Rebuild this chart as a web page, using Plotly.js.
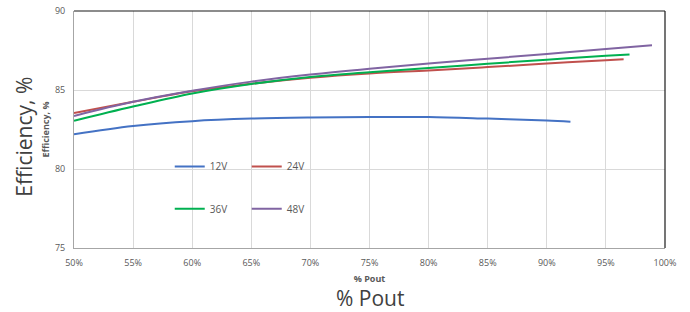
<!DOCTYPE html>
<html>
<head>
<meta charset="utf-8">
<script src="https://cdn.plot.ly/plotly-3.0.1.min.js"></script>
<style>html,body{margin:0;padding:0;background:#fff;}#chart{width:690px;height:312px;}</style>
</head>
<body>
<div id="chart"></div>
<script>
// Data
const seriesNames = ['12V', '24V', '36V', '48V'];
const x12 = [0.50, 0.55, 0.60, 0.65, 0.70, 0.75, 0.80, 0.85, 0.90, 0.92];
const y12 = [82.2, 82.72, 83.03, 83.19, 83.26, 83.29, 83.29, 83.19, 83.07, 82.99];
const x24 = [0.50, 0.55, 0.60, 0.65, 0.70, 0.75, 0.80, 0.85, 0.90, 0.95, 0.965];
const y24 = [83.55, 84.25, 84.92, 85.4, 85.78, 86.05, 86.24, 86.45, 86.67, 86.89, 86.95];
const x36 = [0.50, 0.55, 0.60, 0.65, 0.70, 0.75, 0.80, 0.85, 0.90, 0.95, 0.97];
const y36 = [83.05, 83.95, 84.78, 85.38, 85.82, 86.12, 86.4, 86.66, 86.92, 87.16, 87.25];
const x48 = [0.50, 0.55, 0.60, 0.65, 0.70, 0.75, 0.80, 0.85, 0.90, 0.95, 0.989];
const y48 = [83.36, 84.25, 84.95, 85.53, 85.98, 86.35, 86.68, 86.98, 87.28, 87.59, 87.83];
const xTickVals = [0.50, 0.55, 0.60, 0.65, 0.70, 0.75, 0.80, 0.85, 0.90, 0.95, 1.00];
const yTickVals = [75, 80, 85, 90];
const xTitle = '% Pout';
const yTitle = 'Efficiency, %';

const colors = ['#4472C4', '#C0504D', '#00B050', '#8064A2'];
const xs = [x12, x24, x36, x48];
const ys = [y12, y24, y36, y48];
const legends = ['legend', 'legend', 'legend2', 'legend2'];

const traces = seriesNames.map((n, i) => ({
  type: 'scatter', mode: 'lines', name: n,
  x: xs[i], y: ys[i],
  line: {color: colors[i], width: 2, shape: 'spline', smoothing: 1},
  legend: legends[i], hoverinfo: 'skip'
}));

const tickFont = {family: 'Open Sans, sans-serif', size: 9, color: '#595959'};
const legFont = {family: 'Open Sans, sans-serif', size: 10, color: '#595959'};

const layout = {
  width: 690, height: 312,
  margin: {l: 73.5, r: 25, t: 11, b: 64},
  paper_bgcolor: '#fff', plot_bgcolor: '#fff',
  xaxis: {
    range: [0.5, 1.0], tickvals: xTickVals, tickformat: '.0%',
    showgrid: true, gridcolor: '#d9d9d9', gridwidth: 1,
    showline: true, linecolor: '#a6a6a6', linewidth: 1,
    ticks: '', zeroline: false, tickfont: tickFont, ticklabelstandoff: 6,
    title: {text: xTitle, font: {family: 'Open Sans, sans-serif', size: 9, color: '#595959', weight: 'bold'}, standoff: 7}
  },
  yaxis: {
    range: [75, 90], tickvals: yTickVals,
    showgrid: true, gridcolor: '#d9d9d9', gridwidth: 1,
    showline: true, linecolor: '#a6a6a6', linewidth: 1,
    ticks: '', zeroline: false, tickfont: tickFont, ticklabelstandoff: 6,
    title: {text: yTitle, font: {family: 'Open Sans, sans-serif', size: 9, color: '#595959', weight: 'bold'}, standoff: 3}
  },
  showlegend: true,
  legend: {
    orientation: 'h', x: 0.162, y: 0.405, xanchor: 'left', yanchor: 'top',
    bgcolor: 'rgba(0,0,0,0)', font: legFont, itemwidth: 30, entrywidth: 32, entrywidthmode: 'pixels'
  },
  legend2: {
    orientation: 'h', x: 0.162, y: 0.227, xanchor: 'left', yanchor: 'top',
    bgcolor: 'rgba(0,0,0,0)', font: legFont, itemwidth: 30, entrywidth: 32, entrywidthmode: 'pixels'
  },
  shapes: [
    {type: 'rect', xref: 'paper', yref: 'paper', x0: 0.16, x1: 0.386, y0: 0.076, y1: 0.44,
     fillcolor: '#ffffff', line: {width: 0}, layer: 'between'},
    {type: 'line', xref: 'paper', yref: 'paper', x0: 0, x1: 1, y0: 1, y1: 1, line: {color: '#1a1a1a', width: 1.2}},
    {type: 'line', xref: 'paper', yref: 'paper', x0: 1, x1: 1, y0: 0, y1: 1, line: {color: '#1a1a1a', width: 1.2}}
  ],
  annotations: [
    {text: yTitle, xref: 'paper', yref: 'paper', x: -0.0845, y: 0.47, xanchor: 'center', yanchor: 'middle',
     textangle: -90, showarrow: false, font: {family: 'Open Sans, sans-serif', size: 21, color: '#404040'}},
    {text: xTitle, xref: 'paper', yref: 'paper', x: 0.5, y: -0.21, xanchor: 'center', yanchor: 'middle',
     showarrow: false, font: {family: 'Open Sans, sans-serif', size: 21, color: '#404040'}}
  ]
};

Plotly.newPlot('chart', traces, layout, {displayModeBar: false, staticPlot: true});
</script>
</body>
</html>
